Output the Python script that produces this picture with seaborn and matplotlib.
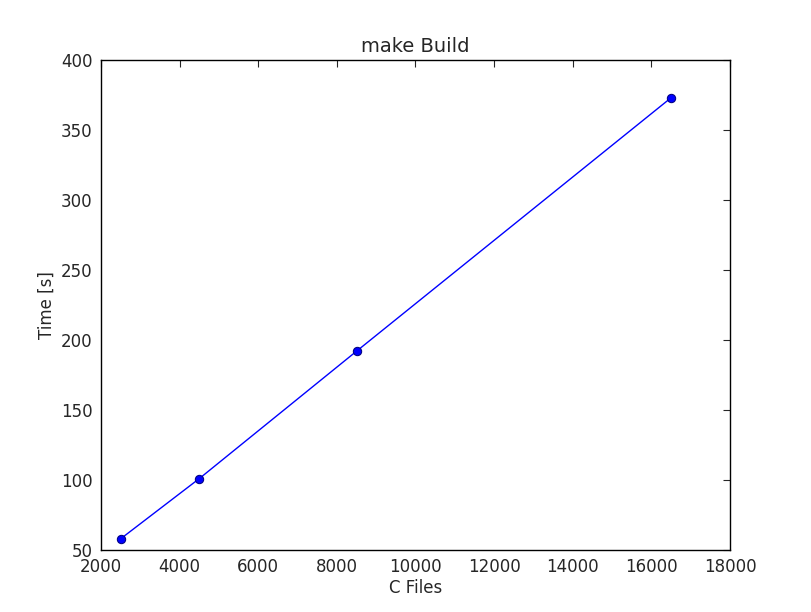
import matplotlib
matplotlib.use("Agg")
import matplotlib.pyplot as plt
import seaborn as sns
import pandas as pd

c_files = [2500, 4500, 8500, 16500]
times = [58, 101, 192, 373]

sns.set_style("white")
plt.rcParams['font.family'] = ['DejaVu Sans']
fig = plt.figure(figsize=(8.12, 6.12), dpi=100)
ax = fig.add_axes([101/812, 62/612, (730-101)/812, (550-60)/612])
df = pd.DataFrame({"x": c_files, "y": times})
sns.lineplot(data=df, x="x", y="y", ax=ax, color="blue", marker="o",
             markersize=6, markerfacecolor="blue", markeredgecolor="navy", linewidth=1)
ax.set_xlim(2000, 18000)
ax.set_ylim(50, 400)
ax.set_xticks(range(2000, 18001, 2000))
ax.set_yticks(range(50, 401, 50))
ax.tick_params(direction="in", top=True, right=True, labelsize=12, length=5, pad=6)
for s in ax.spines.values():
    s.set_color("black"); s.set_linewidth(1)
ax.set_xlabel("C Files", fontsize=12, labelpad=2)
ax.set_ylabel("Time [s]", fontsize=12)
ax.set_title("make Build", fontsize=14)
fig.savefig("out.png", dpi=100)
